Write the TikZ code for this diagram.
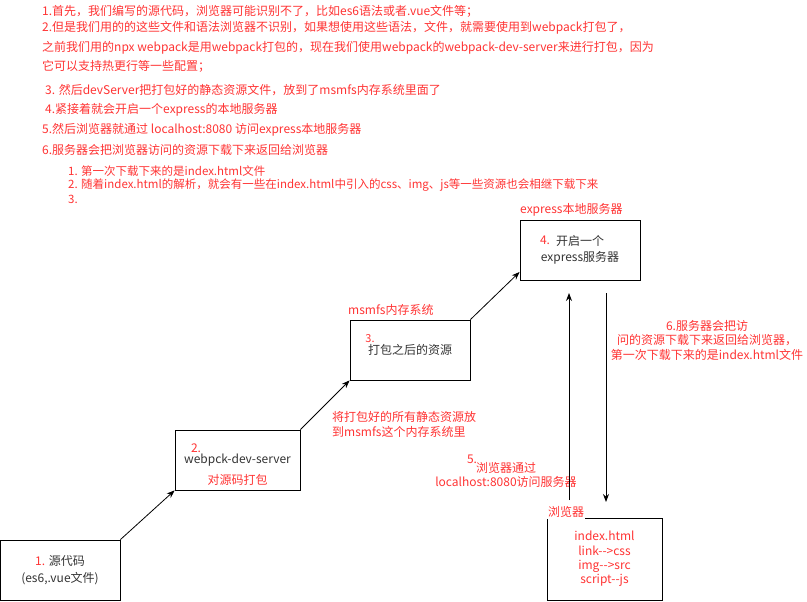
\documentclass[tikz,border=0pt]{standalone}
\usepackage{fontspec}
\setmainfont{Noto Sans CJK SC}
\usetikzlibrary{arrows.meta}
\definecolor{notered}{HTML}{FF3333}
\definecolor{boxtext}{HTML}{333333}

\begin{document}
\begin{tikzpicture}[x=1pt,y=-1pt,
	every node/.style={font=\fontsize{12}{14}\selectfont},
	box/.style={draw,line width=0.8pt,inner sep=0pt,text=boxtext,align=center},
	note/.style={text=notered,anchor=west,inner sep=0pt},
	num/.style={text=notered,inner sep=0pt},
	flow/.style={-{Stealth[length=8pt,width=6pt]},line width=0.8pt}]
	\useasboundingbox (0,0) rectangle (807,602);
	\node [note] (step1) at (42,11) {1.首先，我们编写的源代码，浏览器可能识别不了，比如es6语法或者.vue文件等；};
	\node [note] (step2) at (42,28) {2.但是我们用的的这些文件和语法浏览器不识别，如果想使用这些语法，文件，就需要使用到webpack打包了，};
	\node [note] (step2b) at (42,47.5) {之前我们用的npx webpack是用webpack打包的，现在我们使用webpack的webpack-dev-server来进行打包，因为};
	\node [note] (step2c) at (42,66.5) {它可以支持热更行等一些配置；};
	\node [note] (step3) at (45,90) {3. 然后devServer把打包好的静态资源文件，放到了msmfs内存系统里面了};
	\node [note] (step4) at (45,110) {4.紧接着就会开启一个express的本地服务器};
	\node [note] (step5) at (42,130) {5.然后浏览器就通过 localhost:8080 访问express本地服务器};
	\node [note] (step6) at (42,150) {6.服务器会把浏览器访问的资源下载下来返回给浏览器};
	\node [note,font=\fontsize{11.5}{13}\selectfont] (sub1) at (68,171) {1. 第一次下载下来的是index.html文件};
	\node [note,font=\fontsize{11.5}{13}\selectfont] (sub2) at (68,185) {2. 随着index.html的解析，就会有一些在index.html中引入的css、img、js等一些资源也会相继下载下来};
	\node [note,font=\fontsize{11.5}{13}\selectfont] (sub3) at (68,199) {3.};

	\node [box,minimum width=120,minimum height=60,font=\fontsize{12}{17}\selectfont] (src) at (60,570) {{\color{notered}1.} 源代码\\(es6,.vue文件)};
	\node [box,minimum width=125,minimum height=60] (devserver) at (237.5,460) {webpck-dev-server};
	\node [num] (devnum) at (196,448) {2.};
	\node [num] (devnote) at (237.5,480) {对源码打包};
	\node [box,minimum width=120,minimum height=60] (memfs) at (410,350) {打包之后的资源};
	\node [num,font=\fontsize{11}{13}\selectfont] (memnum) at (370,339) {3.};
	\node [note] (memlabel) at (348,310) {msmfs内存系统};
	\node [box,minimum width=120,minimum height=60,font=\fontsize{12}{16}\selectfont] (express) at (580,250) {开启一个\\express服务器};
	\node [num] (expnum) at (545,240) {4.};
	\node [note] (explabel) at (520,210) {express本地服务器};
	\node [box,minimum width=115,minimum height=82,text=notered,font=\fontsize{12}{14.3}\selectfont] (browser) at (604.5,559) {index.html\\link-{}-{}>css\\img-{}-{}>src\\script-{}-js};
	\node [note,fill=white,inner sep=1pt] (browserlabel) at (547,512) {浏览器};

	\node [note,align=left,font=\fontsize{12}{15}\selectfont] (packnote) at (332,424) {将打包好的所有静态资源放\\到msmfs这个内存系统里};
	\node [num] (reqnum) at (472,459) {5.};
	\node [num,align=center] (reqnote) at (506,475) {浏览器通过\\localhost:8080访问服务器};
	\node [num,align=center,font=\fontsize{12}{14.5}\selectfont] (resnote) at (707,340) {6.服务器会把访\\问的资源下载下来返回给浏览器，\\第一次下载下来的是index.html文件};

	\coordinate (reqstart) at (569,500);
	\coordinate (reqend) at (569,293);
	\coordinate (resstart) at (606,293);
	\coordinate (resend) at (606,502);
	\draw [flow] (src.north east) -- (devserver.south west);
	\draw [flow] (devserver.north east) -- (memfs.south west);
	\draw [flow] (memfs.north east) -- (express.200);
	\draw [flow] (reqstart) -- (reqend);
	\draw [flow] (resstart) -- (resend);
\end{tikzpicture}
\end{document}
